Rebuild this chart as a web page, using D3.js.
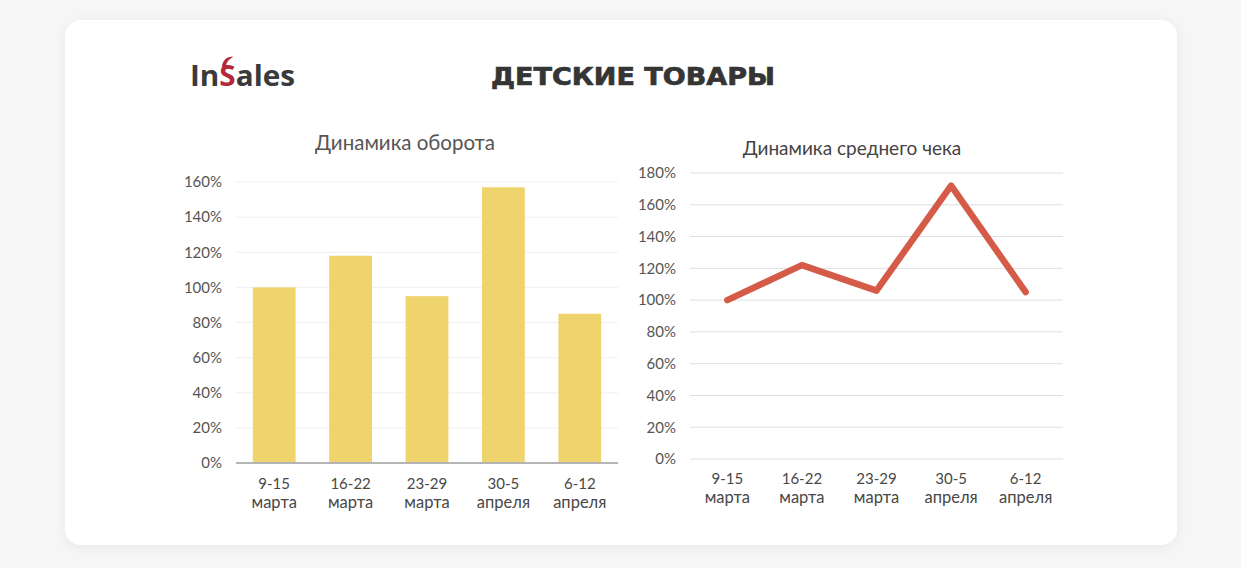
<!DOCTYPE html>
<html><head><meta charset="utf-8">
<script src="https://cdn.jsdelivr.net/npm/d3@7"></script>
<style>
html,body{margin:0;padding:0;background:#f6f6f6;}
svg{display:block;}
</style></head>
<body>
<svg id="c" width="1241" height="568"></svg>
<script>
const categories = ["9-15|марта","16-22|марта","23-29|марта","30-5|апреля","6-12|апреля"];
const turnover = [100, 118, 95, 157, 85];
const avgCheck = [100, 122, 106, 172, 105];
const leftTicks = [0,20,40,60,80,100,120,140,160];
const rightTicks = [0,20,40,60,80,100,120,140,160,180];
const mainTitle = "ДЕТСКИЕ ТОВАРЫ";
const leftTitle = "Динамика оборота";
const rightTitle = "Динамика среднего чека";

const svg = d3.select("#c");
const defs = svg.append("defs");
const f = defs.append("filter").attr("id","sh").attr("x","-10%").attr("y","-10%").attr("width","120%").attr("height","130%");
f.append("feDropShadow").attr("dx",0).attr("dy",2).attr("stdDeviation",6).attr("flood-color","#000").attr("flood-opacity",0.06);
svg.append("rect").attr("x",65).attr("y",20).attr("width",1112).attr("height",525).attr("rx",16).attr("fill","#fff").attr("filter","url(#sh)");

// logo
const logo = svg.append("text").attr("x",190).attr("y",86).attr("font-family","'Open Sans', sans-serif").attr("font-weight",700).attr("font-size",29)
  .attr("textLength",105).attr("lengthAdjust","spacingAndGlyphs");
logo.append("tspan").attr("fill","#3a3a3c").text("In");
logo.append("tspan").attr("fill","#b3283b").text("S");
logo.append("tspan").attr("fill","#3a3a3c").text("ales");
{
  const node = logo.node();
  const p = node.getStartPositionOfChar(2), e = node.getEndPositionOfChar(2);
  const sx = p.x, ex = e.x, w = ex - sx;
  svg.append("path")
    .attr("d",`M${sx+w*0.15} 67 C${sx+w*0.2} 60 ${sx+w*0.5} 56 ${sx+w*0.85} 57 C${sx+w*0.6} 59 ${sx+w*0.42} 62 ${sx+w*0.42} 66 Z`)
    .attr("fill","#b3283b");
}

svg.append("text").attr("x",491).attr("y",85).attr("font-family","'DejaVu Sans', sans-serif").attr("font-weight",700).attr("font-size",25)
  .attr("textLength",284).attr("lengthAdjust","spacingAndGlyphs").attr("fill","#353535")
  .attr("stroke","#353535").attr("stroke-width",0.7).text(mainTitle);

function xLabels(g, x, y0) {
  categories.forEach((c,i)=>{
    const parts = c.split("|");
    const cx = x(c) + x.bandwidth()/2;
    const t = g.append("text").attr("text-anchor","middle").attr("font-family","Lato, sans-serif").attr("fill","#484848");
    t.append("tspan").attr("x",cx).attr("y",y0).attr("font-size",15).text(parts[0]);
    t.append("tspan").attr("x",cx).attr("y",y0+19).attr("font-size",16.5).text(parts[1]);
  });
}

// left bar chart
{
  const x = d3.scaleBand().domain(categories).range([236,618]).paddingInner(0.44).paddingOuter(0.22);
  const y = d3.scaleLinear().domain([0,160]).range([463,182]);
  const g = svg.append("g");
  g.selectAll("line.grid").data(leftTicks.filter(d=>d>0)).join("line")
    .attr("x1",236).attr("x2",618).attr("y1",d=>y(d)).attr("y2",d=>y(d)).attr("stroke","#f0f0f0").attr("stroke-width",1);
  g.selectAll("rect").data(turnover).join("rect")
    .attr("x",(d,i)=>x(categories[i])).attr("width",x.bandwidth())
    .attr("y",d=>y(d)).attr("height",d=>y(0)-y(d)).attr("fill","#efd46d");
  g.append("line").attr("x1",236).attr("x2",618).attr("y1",y(0)).attr("y2",y(0)).attr("stroke","#b5b5b5").attr("stroke-width",2);
  const ax = g.append("g").attr("transform","translate(222,0)").call(d3.axisLeft(y).tickValues(leftTicks).tickFormat(d=>d+"%").tickSize(0).tickPadding(0));
  ax.select(".domain").remove();
  ax.selectAll("text").attr("font-family","Lato, sans-serif").attr("font-size",15).attr("fill","#555");
  g.append("text").attr("x",405).attr("y",150).attr("text-anchor","middle").attr("font-family","Lato, sans-serif").attr("font-size",20.5).attr("fill","#555").text(leftTitle);
  xLabels(g, x, 489);
}

// right line chart
{
  const x = d3.scaleBand().domain(categories).range([690,1063]);
  const y = d3.scaleLinear().domain([0,180]).range([459,173]);
  const g = svg.append("g");
  g.selectAll("line.grid").data(rightTicks).join("line")
    .attr("x1",690).attr("x2",1063).attr("y1",d=>y(d)).attr("y2",d=>y(d)).attr("stroke","#dedede").attr("stroke-width",1);
  const line = d3.line().x((d,i)=>x(categories[i])+x.bandwidth()/2).y(d=>y(d));
  g.append("path").datum(avgCheck).attr("d",line).attr("fill","none").attr("stroke","#d45b47").attr("stroke-width",6.5).attr("stroke-linejoin","round").attr("stroke-linecap","round");
  const ax = g.append("g").attr("transform","translate(676,0)").call(d3.axisLeft(y).tickValues(rightTicks).tickFormat(d=>d+"%").tickSize(0).tickPadding(0));
  ax.select(".domain").remove();
  ax.selectAll("text").attr("font-family","Lato, sans-serif").attr("font-size",15).attr("fill","#555");
  g.append("text").attr("x",852).attr("y",155).attr("text-anchor","middle").attr("font-family","Lato, sans-serif").attr("font-size",19).attr("fill","#444").text(rightTitle);
  xLabels(g, x, 484);
}
</script>
</body></html>
